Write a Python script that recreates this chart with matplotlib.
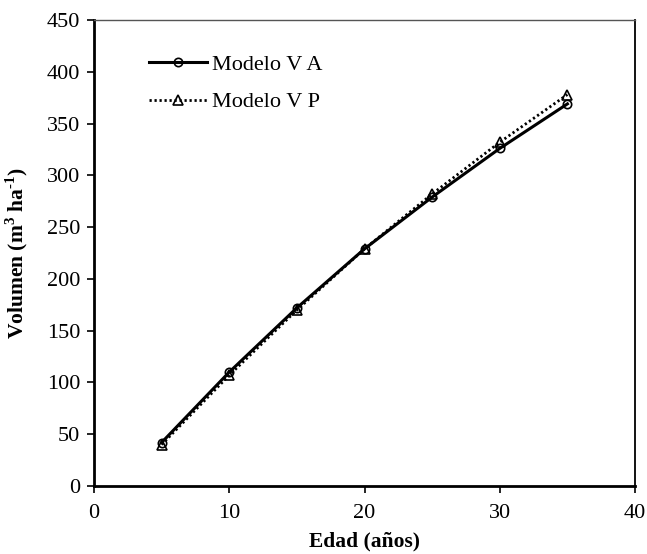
import matplotlib
matplotlib.use("Agg")
import matplotlib.pyplot as plt

edad = [5, 10, 15, 20, 25, 30, 35]
vol_va = [42, 110, 172, 229, 279, 326, 369]
vol_vp = [40, 107, 170, 229, 282, 332, 378]
labels = ["Modelo V A", "Modelo V P"]

plt.rcParams["font.family"] = ["Liberation Serif", "DejaVu Serif"]
plt.rcParams["mathtext.fontset"] = "custom"
plt.rcParams["mathtext.rm"] = "Liberation Serif"
plt.rcParams["mathtext.bf"] = "Liberation Serif:bold"

fig = plt.figure(figsize=(6.47, 5.54), dpi=100)
ax = fig.add_axes([0.1453, 0.1227, 0.8362, 0.8412])

ax.plot(edad, vol_va, color="black", lw=2.2, ls="-", marker="o", ms=6,
        mfc="none", mec="black", mew=1.2, label=labels[0])
ax.plot(edad, vol_vp, color="black", lw=2.0, ls=(0, (0.8, 1.0)), marker="^", ms=7,
        mfc="none", mec="black", mew=1.2, label=labels[1])

ax.set_xlim(0, 40)
ax.set_ylim(0, 450)
ax.set_xticks(range(0, 41, 10))
ax.set_yticks(range(0, 451, 50))
ax.tick_params(axis="both", direction="out", length=5, width=1.2,
               labelsize=16, colors="black")
ax.tick_params(axis="y", pad=5)
ax.tick_params(axis="x", pad=8)

ax.spines["left"].set_linewidth(2.0)
ax.spines["bottom"].set_linewidth(2.0)
ax.spines["right"].set_linewidth(1.3)
ax.spines["top"].set_linewidth(1.0)
ax.spines["top"].set_color("#555555")

ax.set_xlabel("Edad (años)", fontsize=15.5, fontweight="bold")
ax.set_ylabel(r"Volumen (m$^{\mathbf{3}}$ ha$^{\mathbf{\text{-}1}}$)", fontsize=15.5,
              fontweight="bold")
ax.xaxis.set_label_coords(0.5, -0.097)
ax.yaxis.set_label_coords(-0.118, 0.5)

leg = ax.legend(loc="upper left", frameon=False, fontsize=16, handlelength=2.6,
                handletextpad=0.25, borderaxespad=0.0, bbox_to_anchor=(0.085, 0.945),
                labelspacing=0.75)

fig.savefig("out.png", dpi=100)
